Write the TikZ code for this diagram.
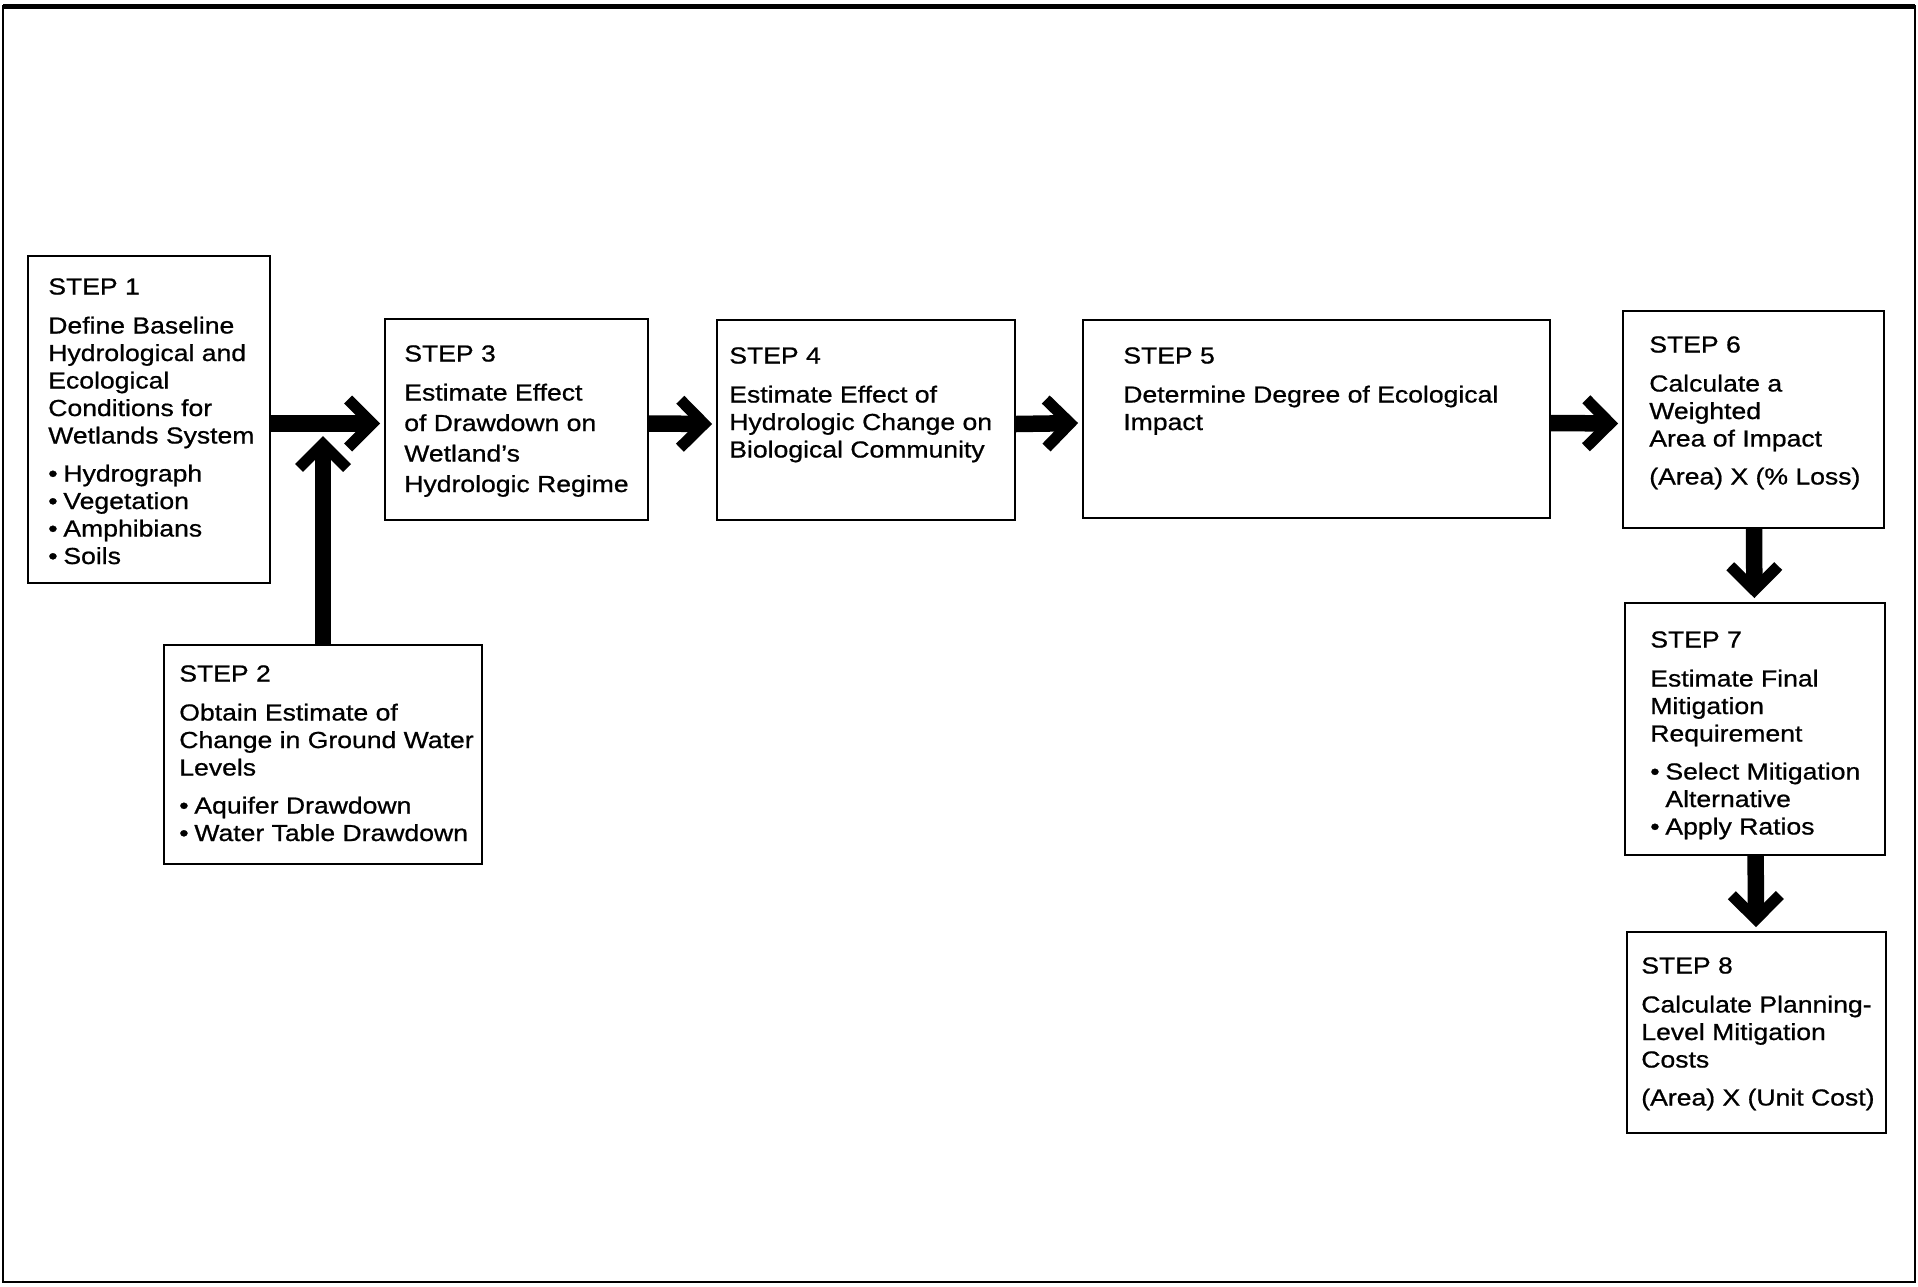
\documentclass[tikz,border=0pt]{standalone}
\usepackage{fontspec}
\setmainfont{Liberation Sans}[FakeStretch=1.145, FakeBold=0.8]
\usetikzlibrary{arrows.meta}
\newcommand{\dotitem}{\textbullet\hspace{0.25em}}
\tikzset{
  stepbox/.style={draw, line width=1.8pt, inner sep=0pt},
  steptext/.style={anchor=north west, align=left, inner sep=0pt,
    font=\fontsize{23.2pt}{27.5pt}\selectfont},
  bigarrow/.style={line width=16.5pt, shorten >=4pt,
    -{Straight Barb[length=24pt, width=48pt, line width=11.3pt, sharp]}}
}
\begin{document}
\begin{tikzpicture}[x=1pt, y=-1pt]
\useasboundingbox (0,0) rectangle (1918,1286);
\draw[line width=2pt] (3,6) rectangle (1915,1282);
\draw[line width=5pt] (3,6) -- (1915,6);

\node[stepbox, minimum width=242pt, minimum height=327pt] (s1) at (149,419.5) {};
\node[stepbox, minimum width=318pt, minimum height=219pt] (s2) at (323,754.5) {};
\node[stepbox, minimum width=263pt, minimum height=201pt] (s3) at (516.5,419.5) {};
\node[stepbox, minimum width=298pt, minimum height=200pt] (s4) at (866,420) {};
\node[stepbox, minimum width=467pt, minimum height=198pt] (s5) at (1316.5,419) {};
\node[stepbox, minimum width=261pt, minimum height=217pt] (s6) at (1753.5,419.5) {};
\node[stepbox, minimum width=260pt, minimum height=252pt] (s7) at (1755,729) {};
\node[stepbox, minimum width=259pt, minimum height=201pt] (s8) at (1756.5,1032.5) {};

\node[steptext] (t1) at ([shift={(21,23)}]s1.north west) {STEP 1\\[11.5pt]
  Define Baseline\\ Hydrological and\\ Ecological\\ Conditions for\\ Wetlands System\\[10.5pt]
  \dotitem Hydrograph\\ \dotitem Vegetation\\ \dotitem Amphibians\\ \dotitem Soils};
\node[steptext] (t2) at ([shift={(16,21)}]s2.north west) {STEP 2\\[11.5pt]
  Obtain Estimate of\\ Change in Ground Water\\ Levels\\[10.5pt]
  \dotitem Aquifer Drawdown\\ \dotitem Water Table Drawdown};
\node[steptext, font=\fontsize{23.2pt}{30.5pt}\selectfont] (t3) at ([shift={(20,27)}]s3.north west) {STEP 3\\[8.5pt]
  Estimate Effect\\ of Drawdown on\\ Wetland's\\ Hydrologic Regime};
\node[steptext] (t4) at ([shift={(13,28)}]s4.north west) {STEP 4\\[11.5pt]
  Estimate Effect of\\ Hydrologic Change on\\ Biological Community};
\node[steptext] (t5) at ([shift={(41,28)}]s5.north west) {STEP 5\\[11.5pt]
  Determine Degree of Ecological\\ Impact};
\node[steptext] (t6) at ([shift={(27,26)}]s6.north west) {STEP 6\\[11.5pt]
  Calculate a\\ Weighted\\ Area of Impact\\[10.5pt] (Area) X (\% Loss)};
\node[steptext] (t7) at ([shift={(26,29)}]s7.north west) {STEP 7\\[11.5pt]
  Estimate Final\\ Mitigation\\ Requirement\\[10.5pt]
  \dotitem Select Mitigation\\ \phantom{\dotitem}Alternative\\ \dotitem Apply Ratios};
\node[steptext] (t8) at ([shift={(15,26)}]s8.north west) {STEP 8\\[11.5pt]
  Calculate Planning-\\ Level Mitigation\\ Costs\\[10.5pt] (Area) X (Unit Cost)};

\coordinate (join) at (323,436);
\draw[bigarrow] ([yshift=-4pt]s1.east) -- ([yshift=-4pt]s3.west);
\draw[bigarrow, shorten >=0pt] (s2) -- (join);
\draw[bigarrow] ([yshift=-4pt]s3.east) -- ([yshift=-4pt]s4.west);
\draw[bigarrow] ([yshift=-4pt]s4.east) -- ([yshift=-4pt]s5.west);
\draw[bigarrow] ([yshift=-4pt]s5.east) -- ([yshift=-4pt]s6.west);
\draw[bigarrow] (s6) -- (s7);
\draw[bigarrow] (s7) -- (s8);
\end{tikzpicture}
\end{document}
